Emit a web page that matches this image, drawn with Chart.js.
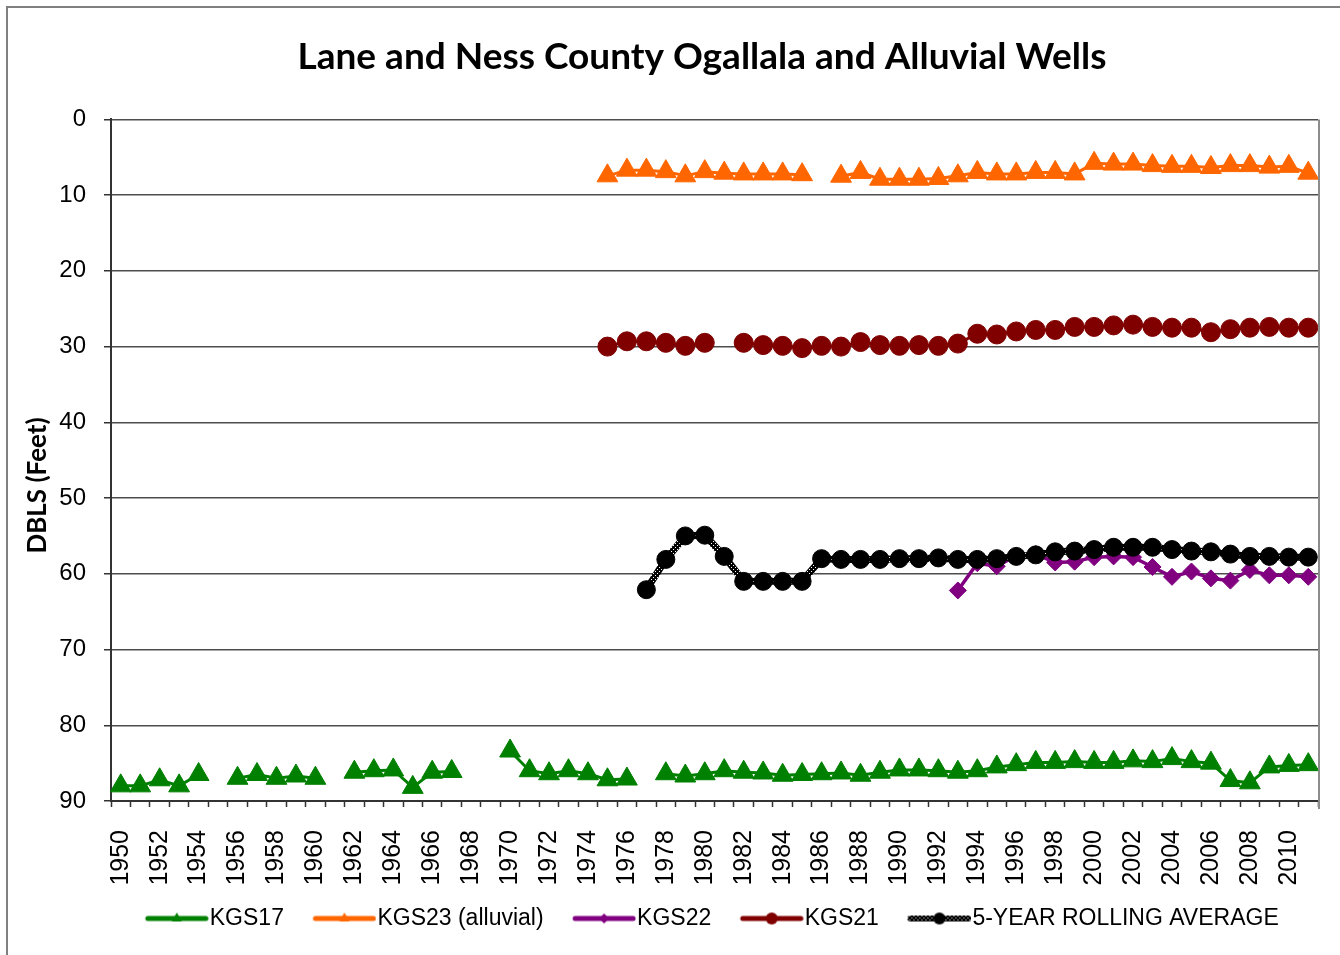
<!DOCTYPE html>
<html>
<head>
<meta charset="utf-8">
<script src="https://cdn.jsdelivr.net/npm/chart.js@4.4.0/dist/chart.umd.min.js"></script>
<style>
  html, body { margin: 0; padding: 0; background: #fff; }
  #wrap { width: 1340px; height: 955px; }
</style>
</head>
<body>
<div id="wrap"><canvas id="wellChart" width="1340" height="955"></canvas></div>
<script>
// years on the category axis
const years = [];
for (let y = 1950; y <= 2011; y++) years.push(String(y));

// depth below land surface (feet); null = no reading
const kgs17 = [88.0, 88.0, 87.2, 88.0, 86.5, null, 87.0, 86.5, 87.0, 86.7,
               87.0, null, 86.2, 86.0, 85.9, 88.2, 86.2, 86.1, null, null,
               83.4, 86.0, 86.4, 86.0, 86.4, 87.2, 87.1, null, 86.4, 86.7,
               86.4, 86.0, 86.2, 86.3, 86.6, 86.5, 86.4, 86.3, 86.6, 86.2,
               85.9, 85.9, 86.0, 86.2, 86.0, 85.5, 85.2, 84.9, 84.9, 84.8,
               84.9, 84.9, 84.7, 84.8, 84.4, 84.8, 85.0, 87.3, 87.6, 85.5,
               85.3, 85.2];

// these series start later; first value belongs to the start year
const kgs23Start = 1975;
const kgs23 = [7.45, 6.7, 6.7, 6.9, 7.45, 6.9, 7.1, 7.2, 7.2, 7.2,
               7.3, null, 7.5, 7.0, 7.9, 7.9, 7.9, 7.8, 7.45, 7.0,
               7.2, 7.2, 7.0, 7.0, 7.2, 5.8, 5.9, 5.9, 6.1, 6.2,
               6.2, 6.35, 6.1, 6.1, 6.3, 6.2, 7.1];

const kgs22Start = 1993;
const kgs22 = [62.2, 58.6, 59.0, 57.6, 57.4, 58.5, 58.4, 57.8, 57.7, 57.8,
               59.1, 60.4, 59.7, 60.6, 60.9, 59.5, 60.2, 60.2, 60.4];

const kgs21Start = 1975;
const kgs21 = [30.0, 29.3, 29.3, 29.5, 29.9, 29.5, null, 29.5, 29.8, 29.9,
               30.2, 29.9, 30.0, 29.4, 29.8, 29.9, 29.8, 29.9, 29.6, 28.3,
               28.4, 28.0, 27.8, 27.8, 27.4, 27.4, 27.2, 27.1, 27.4, 27.5,
               27.5, 28.1, 27.7, 27.5, 27.4, 27.5, 27.5];

const rollingStart = 1977;
const rolling = [62.1, 58.1, 55.0, 54.9, 57.7, 61.0, 61.0, 61.0, 61.0, 58.0,
                 58.1, 58.1, 58.1, 58.0, 58.0, 57.9, 58.1, 58.1, 58.0, 57.7,
                 57.5, 57.1, 57.0, 56.8, 56.5, 56.5, 56.5, 56.8, 57.0, 57.1,
                 57.4, 57.7, 57.7, 57.8, 57.8];

const yTicks = [0, 10, 20, 30, 40, 50, 60, 70, 80, 90];

// line up a late-starting series with the year axis
function fromYear(start, values) {
    const lead = new Array(start - 1950).fill(null);
    return lead.concat(values);
}

// black line with white dots, like the Excel rolling average line
function makeDotPattern() {
    const tile = document.createElement('canvas');
    tile.width = 4; tile.height = 4;
    const g = tile.getContext('2d');
    g.fillStyle = '#000';
    g.fillRect(0, 0, 4, 4);
    g.fillStyle = '#fff';
    g.fillRect(1, 1, 1, 1);
    g.fillRect(3, 3, 1, 1);
    return document.getElementById('wellChart').getContext('2d').createPattern(tile, 'repeat');
}
const dotPattern = makeDotPattern();

// legend box is wide so the items sit apart; swatch is drawn at its right end
const legendBoxW = 72;
const iconW = legendBoxW + 21;

// legend swatch: a short line with the marker in the middle
function legendIcon(color, marker, lineStyle) {
    const c = document.createElement('canvas');
    c.width = iconW; c.height = 20;
    const g = c.getContext('2d');
    const x0 = iconW - 61, x1 = iconW - 3, mid = (x0 + x1) / 2;
    g.strokeStyle = lineStyle || color;
    g.lineWidth = lineStyle ? 6 : 5;
    g.lineCap = 'round';
    g.beginPath(); g.moveTo(x0, 10); g.lineTo(x1, 10); g.stroke();
    g.fillStyle = color;
    g.beginPath();
    if (marker === 'triangle') {
        g.moveTo(mid, 4); g.lineTo(mid + 5, 13); g.lineTo(mid - 5, 13);
    } else if (marker === 'rectRot') {
        g.moveTo(mid, 5); g.lineTo(mid + 5, 10); g.lineTo(mid, 15); g.lineTo(mid - 5, 10);
    } else {
        g.arc(mid, 10, 6, 0, Math.PI * 2);
    }
    g.closePath();
    g.fill();
    return c;
}

const green = '#008000';
const orange = '#ff6600';
const purple = '#800080';
const darkRed = '#800000';

const datasets = [
    {
        label: 'KGS17', data: kgs17, borderColor: green, backgroundColor: green,
        borderWidth: 3, pointStyle: 'triangle', pointRadius: 12, pointBorderWidth: 1, order: 1,
        icon: legendIcon(green, 'triangle')
    },
    {
        label: 'KGS23 (alluvial)', data: fromYear(kgs23Start, kgs23), borderColor: orange, backgroundColor: orange,
        borderWidth: 3, pointStyle: 'triangle', pointRadius: 12, pointBorderWidth: 1, order: 1,
        icon: legendIcon(orange, 'triangle')
    },
    {
        label: 'KGS22', data: fromYear(kgs22Start, kgs22), borderColor: purple, backgroundColor: purple,
        borderWidth: 3.5, pointStyle: 'rectRot', pointRadius: 8.5, pointBorderWidth: 1, order: 2,
        icon: legendIcon(purple, 'rectRot')
    },
    {
        label: 'KGS21', data: fromYear(kgs21Start, kgs21), borderColor: darkRed, backgroundColor: darkRed,
        borderWidth: 3, pointStyle: 'circle', pointRadius: 9.5, pointBorderWidth: 1, order: 1,
        icon: legendIcon(darkRed, 'circle')
    },
    {
        label: '5-YEAR ROLLING AVERAGE', data: fromYear(rollingStart, rolling), borderColor: dotPattern,
        backgroundColor: '#000', pointBorderColor: '#000',
        borderWidth: 7, pointStyle: 'circle', pointRadius: 9, pointBorderWidth: 1, order: 0,
        icon: legendIcon('#000', 'circle', dotPattern)
    }
];

const whiteBackground = {
    id: 'whiteBackground',
    beforeDraw(chart) {
        const ctx = chart.ctx;
        ctx.save();
        ctx.fillStyle = '#fff';
        ctx.fillRect(0, 0, chart.width, chart.height);
        ctx.strokeStyle = '#808080';
        ctx.lineWidth = 2;
        ctx.strokeRect(7, 7, chart.width + 10, chart.height + 10);
        ctx.restore();
    },
    afterLayout(chart) {
        // centre the title a little left of the plot like the original
        chart.titleBlock.left = 86;
        chart.titleBlock.right = 1318;
        // the blank lead of the first legend box pushes items right; pull them back
        chart.legend.left -= 12;
        chart.legend.right -= 12;
    },
    afterDatasetsDraw(chart) {
        const a = chart.chartArea;
        const ctx = chart.ctx;
        ctx.save();
        ctx.strokeStyle = '#8c8c8c';
        ctx.lineWidth = 2;
        ctx.beginPath();
        ctx.moveTo(a.right + 1, a.top);
        ctx.lineTo(a.right + 1, a.bottom + 8);
        ctx.stroke();
        ctx.restore();
    }
};

new Chart(document.getElementById('wellChart'), {
    type: 'line',
    data: { labels: years, datasets: datasets },
    plugins: [whiteBackground],
    options: {
        responsive: false,
        animation: false,
        devicePixelRatio: 1,
        spanGaps: false,
        layout: { padding: { top: 0, left: 0, right: 22, bottom: 15 } },
        elements: { line: { tension: 0 } },
        plugins: {
            tooltip: { enabled: false },
            title: {
                display: true,
                text: 'Lane and Ness County Ogallala and Alluvial Wells',
                color: '#000',
                font: { family: 'Lato', size: 37, weight: 'bold' },
                padding: { top: 35, bottom: 40 }
            },
            legend: {
                position: 'bottom',
                fullSize: false,
                labels: {
                    usePointStyle: true,
                    pointStyleWidth: legendBoxW,
                    padding: 10,
                    color: '#000',
                    font: { family: 'Liberation Sans', size: 23 },
                    generateLabels(chart) {
                        return chart.data.datasets.map((ds, i) => ({
                            text: ds.label,
                            pointStyle: ds.icon,
                            fillStyle: '#000',
                            strokeStyle: '#000',
                            lineWidth: 0,
                            fontColor: '#000',
                            hidden: false,
                            datasetIndex: i
                        }));
                    }
                }
            }
        },
        scales: {
            x: {
                type: 'category',
                offset: true,
                afterFit(scale) {
                    scale.height = 96;
                    scale.paddingLeft = 0;
                    scale.paddingRight = 0;
                },
                grid: {
                    offset: true,
                    drawOnChartArea: false,
                    drawTicks: true,
                    tickLength: 6,
                    tickColor: '#333',
                    tickWidth: 1.5
                },
                border: { color: '#333', width: 2 },
                ticks: {
                    autoSkip: false,
                    minRotation: 90,
                    maxRotation: 90,
                    padding: 23,
                    color: '#000',
                    font: { family: 'Liberation Sans', size: 25 },
                    callback(value, index) {
                        return index % 2 === 0 ? years[index] : '';
                    }
                }
            },
            y: {
                reverse: true,
                min: 0,
                max: 90,
                afterFit(scale) { scale.width = 111; },
                afterBuildTicks(scale) {
                    scale.ticks = yTicks.map(v => ({ value: v }));
                },
                grid: {
                    color: '#4d4d4d',
                    lineWidth: 1.5,
                    tickLength: 7,
                    tickColor: '#333'
                },
                border: { color: '#333', width: 2 },
                ticks: {
                    padding: 18,
                    color: '#000',
                    font: { family: 'Liberation Sans', size: 24 }
                },
                title: {
                    display: true,
                    // trailing spaces push the rotated title down, as in the original
                    text: 'DBLS (Feet)        ',
                    color: '#000',
                    font: { family: 'Lato', size: 26, weight: 'bold' },
                    padding: { top: 22, bottom: 0 }
                }
            }
        }
    }
});
</script>
</body>
</html>
